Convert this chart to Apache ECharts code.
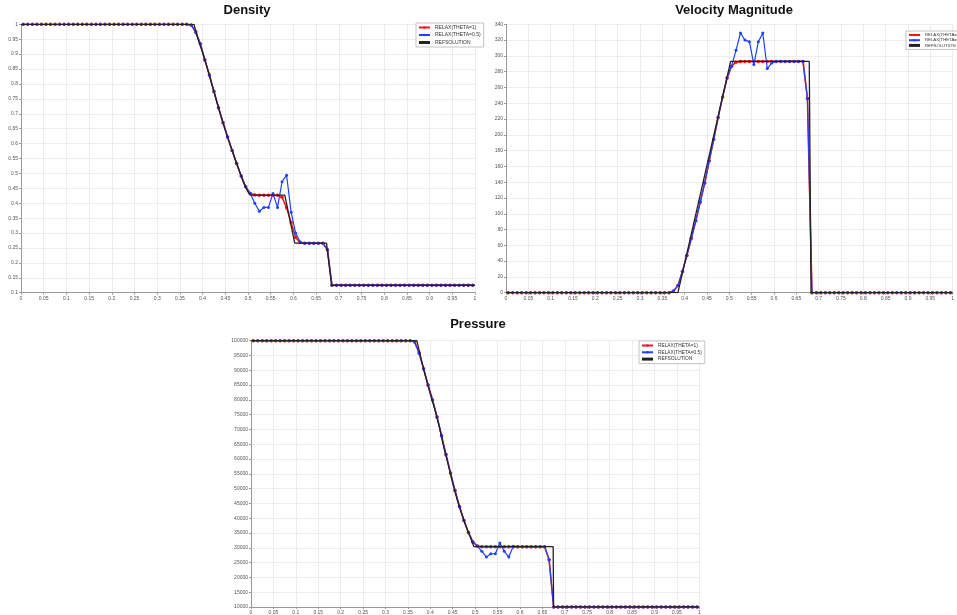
<!DOCTYPE html>
<html><head><meta charset="utf-8">
<script src="https://cdn.jsdelivr.net/npm/echarts@6/dist/echarts.min.js"></script>
<style>html,body{margin:0;padding:0;background:#fff}#c{width:957px;height:615px}</style>
</head><body><div id="c"></div>
<script>
// cell-centre x positions of the numerical solutions
const xs = [0.005,0.015,0.025,0.035,0.045,0.055,0.065,0.075,0.085,0.095,
0.105,0.115,0.125,0.135,0.145,0.155,0.165,0.175,0.185,0.195,
0.205,0.215,0.225,0.235,0.245,0.255,0.265,0.275,0.285,0.295,
0.305,0.315,0.325,0.335,0.345,0.355,0.365,0.375,0.385,0.395,
0.405,0.415,0.425,0.435,0.445,0.455,0.465,0.475,0.485,0.495,
0.505,0.515,0.525,0.535,0.545,0.555,0.565,0.575,0.585,0.595,
0.605,0.615,0.625,0.635,0.645,0.655,0.665,0.675,0.685,0.695,
0.705,0.715,0.725,0.735,0.745,0.755,0.765,0.775,0.785,0.795,
0.805,0.815,0.825,0.835,0.845,0.855,0.865,0.875,0.885,0.895,
0.905,0.915,0.925,0.935,0.945,0.955,0.965,0.975,0.985,0.995];

const seriesNames = ['RELAX(THETA=1)','RELAX(THETA=0.5)','REFSOLUTION'];

const densRelax1 = [1,1,1,1,1,1,1,1,1,1, 1,1,1,1,1,1,1,1,1,1, 1,1,1,1,1,1,1,1,1,1,
1,1,1,1,1,1,1,0.998,0.975,0.935,
0.88,0.83,0.775,0.72,0.67,0.622,0.577,0.533,0.491,0.455,
0.433,0.428,0.427,0.427,0.427,0.427,0.427,0.42,0.385,0.335,
0.285,0.268,0.266,0.266,0.266,0.266,0.266,0.243,0.125,0.125,
0.125,0.125,0.125,0.125,0.125,0.125,0.125,0.125,0.125,0.125,
0.125,0.125,0.125,0.125,0.125,0.125,0.125,0.125,0.125,0.125,
0.125,0.125,0.125,0.125,0.125,0.125,0.125,0.125,0.125,0.125];
const densRelax05 = [1,1,1,1,1,1,1,1,1,1, 1,1,1,1,1,1,1,1,1,1, 1,1,1,1,1,1,1,1,1,1,
1,1,1,1,1,1,1,0.997,0.972,0.935,
0.88,0.83,0.775,0.72,0.67,0.622,0.577,0.533,0.491,0.455,
0.433,0.40,0.373,0.386,0.386,0.433,0.386,0.472,0.494,0.37,
0.30,0.27,0.266,0.266,0.266,0.266,0.266,0.245,0.125,0.125,
0.125,0.125,0.125,0.125,0.125,0.125,0.125,0.125,0.125,0.125,
0.125,0.125,0.125,0.125,0.125,0.125,0.125,0.125,0.125,0.125,
0.125,0.125,0.125,0.125,0.125,0.125,0.125,0.125,0.125,0.125];
const densRefX = [0,0.381,0.39,0.40,0.41,0.42,0.43,0.44,0.45,0.46,0.47,0.48,0.49,0.50,0.505,0.581,0.603,0.673,0.684,1];
const densRefY = [1,1,0.95,0.905,0.855,0.80,0.748,0.695,0.646,0.60,0.555,0.512,0.47,0.438,0.427,0.427,0.266,0.266,0.125,0.125];

const velRelax1 = [0,0,0,0,0,0,0,0,0,0, 0,0,0,0,0,0,0,0,0,0, 0,0,0,0,0,0,0,0,0,0,
0,0,0,0,0,0,0,2,9,27,
47,69,91,115,139,167,194,222,248,272,
287,292,293,293,293,293,293,293,293,293,
293,293,293,293,293,293,293,246,0,0,
0,0,0,0,0,0,0,0,0,0, 0,0,0,0,0,0,0,0,0,0, 0,0,0,0,0,0,0,0,0,0];
const velRelax05 = [0,0,0,0,0,0,0,0,0,0, 0,0,0,0,0,0,0,0,0,0, 0,0,0,0,0,0,0,0,0,0,
0,0,0,0,0,0,0,2,9,27,
47,69,91,115,139,167,194,222,248,272,
287,307,329,320,318,289,318,329,284,291,
293,293,293,293,293,293,293,246,0,0,
0,0,0,0,0,0,0,0,0,0, 0,0,0,0,0,0,0,0,0,0, 0,0,0,0,0,0,0,0,0,0];
const velRefX = [0,0.385,0.503,0.679,0.683,1];
const velRefY = [0,0,293,293,0,0];

const presRelax1 = [100000,100000,100000,100000,100000,100000,100000,100000,100000,100000,
100000,100000,100000,100000,100000,100000,100000,100000,100000,100000,
100000,100000,100000,100000,100000,100000,100000,100000,100000,100000,
100000,100000,100000,100000,100000,100000,99700,96000,90500,85000,
80000,74200,67900,61500,55300,49400,44000,39200,35200,32000,
30600,30400,30400,30400,30400,30400,30400,30400,30400,30400,
30400,30400,30400,30400,30400,30400,26000,10000,10000,10000,
10000,10000,10000,10000,10000,10000,10000,10000,10000,10000,
10000,10000,10000,10000,10000,10000,10000,10000,10000,10000,
10000,10000,10000,10000,10000,10000,10000,10000,10000,10000];
const presRelax05 = [100000,100000,100000,100000,100000,100000,100000,100000,100000,100000,
100000,100000,100000,100000,100000,100000,100000,100000,100000,100000,
100000,100000,100000,100000,100000,100000,100000,100000,100000,100000,
100000,100000,100000,100000,100000,100000,99500,95700,90500,85000,
80000,74200,67900,61500,55300,49400,44000,39200,35200,32000,
30600,28800,26900,28000,28000,31600,28800,26900,30500,30400,
30400,30400,30400,30400,30400,30400,26000,10000,10000,10000,
10000,10000,10000,10000,10000,10000,10000,10000,10000,10000,
10000,10000,10000,10000,10000,10000,10000,10000,10000,10000,
10000,10000,10000,10000,10000,10000,10000,10000,10000,10000];
const presRefX = [0,0.37,0.38,0.39,0.40,0.41,0.42,0.43,0.44,0.45,0.46,0.47,0.48,0.49,0.497,0.674,0.675,1];
const presRefY = [100000,100000,93500,87500,82000,76800,71000,64000,58100,51800,46240,41500,37100,33300,30400,30400,10000,10000];

const titles = ['Density','Velocity Magnitude','Pressure'];

const pair = (xa, ya) => xa.map((x, i) => [x, ya[i]]);
const FONT = 'Liberation Sans, Arial, sans-serif';

const grids = [
  {left: 21, top: 24.3, width: 454, height: 268.4},
  {left: 506, top: 24.3, width: 451, height: 268.4},
  {left: 251, top: 340.7, width: 448.3, height: 266.6}
];
const yCfg = [
  {min: 0.1, max: 1, interval: 0.05},
  {min: 0, max: 340, interval: 20},
  {min: 10000, max: 100000, interval: 5000}
];
const data = [
  [pair(xs, densRelax1), pair(xs, densRelax05), pair(densRefX, densRefY)],
  [pair(xs, velRelax1), pair(xs, velRelax05), pair(velRefX, velRefY)],
  [pair(xs, presRelax1), pair(xs, presRelax05), pair(presRefX, presRefY)]
];
const legendPos = [
  {left: 416, top: 23, size: 5, gap: 2.5},
  {left: 906, top: 31, size: 4.3, gap: 1.2},
  {left: 639, top: 341, size: 4.8, gap: 1.8}
];
const titlePos = [[247, 4], [734, 4], [478, 318]];

const fmt = v => String(Math.round(v * 1000) / 1000);
const axisLabel = {fontSize: 5, color: '#555', fontFamily: FONT, margin: 3, formatter: fmt};
const splitLine = {show: true, lineStyle: {color: '#ededed', width: 1}};
const axisLine = {show: true, onZero: false, lineStyle: {color: '#9a9a9a', width: 1}};
const axisTick = {show: true, length: 2, lineStyle: {color: '#9a9a9a'}};

const option = {
  animation: false,
  backgroundColor: '#fff',
  grid: grids,
  xAxis: grids.map((g, i) => ({type: 'value', gridIndex: i, min: 0, max: 1, interval: 0.05,
    axisLabel, splitLine, axisLine, axisTick})),
  yAxis: yCfg.map((c, i) => ({type: 'value', gridIndex: i, min: c.min, max: c.max, interval: c.interval,
    axisLabel, splitLine, axisLine, axisTick})),
  legend: legendPos.map(p => ({
    left: p.left, top: p.top, orient: 'vertical',
    data: [{name: seriesNames[0]}, {name: seriesNames[1]}, {name: seriesNames[2], icon: 'rect'}],
    itemWidth: 11, itemHeight: 3, itemGap: p.gap, padding: [2, 3, 2, 2],
    backgroundColor: '#fff', borderColor: '#aaa', borderWidth: 0.7, selectedMode: false,
    textStyle: {fontSize: p.size, color: '#333', fontFamily: FONT}
  })),
  graphic: titles.map((t, i) => ({
    type: 'text', x: titlePos[i][0], y: titlePos[i][1],
    style: {text: t, font: 'bold 13px ' + FONT, fill: '#111', textAlign: 'center', textVerticalAlign: 'top'}
  })),
  series: []
};
data.forEach((d, i) => {
  option.series.push({name: seriesNames[0], type: 'line', xAxisIndex: i, yAxisIndex: i, data: d[0],
    symbol: 'circle', symbolSize: 3.5, itemStyle: {color: '#f01818'}, lineStyle: {color: '#f01818', width: 1.6}, z: 2});
  option.series.push({name: seriesNames[1], type: 'line', xAxisIndex: i, yAxisIndex: i, data: d[1],
    symbol: 'circle', symbolSize: 3, itemStyle: {color: '#2040ff'}, lineStyle: {color: '#2040ff', width: 1.2}, z: 3});
  option.series.push({name: seriesNames[2], type: 'line', xAxisIndex: i, yAxisIndex: i, data: d[2],
    symbol: 'none', itemStyle: {color: '#222'}, lineStyle: {color: '#222', width: 1.3}, z: 4});
});
echarts.init(document.getElementById('c'), null, {renderer: 'canvas'}).setOption(option);
</script></body></html>
